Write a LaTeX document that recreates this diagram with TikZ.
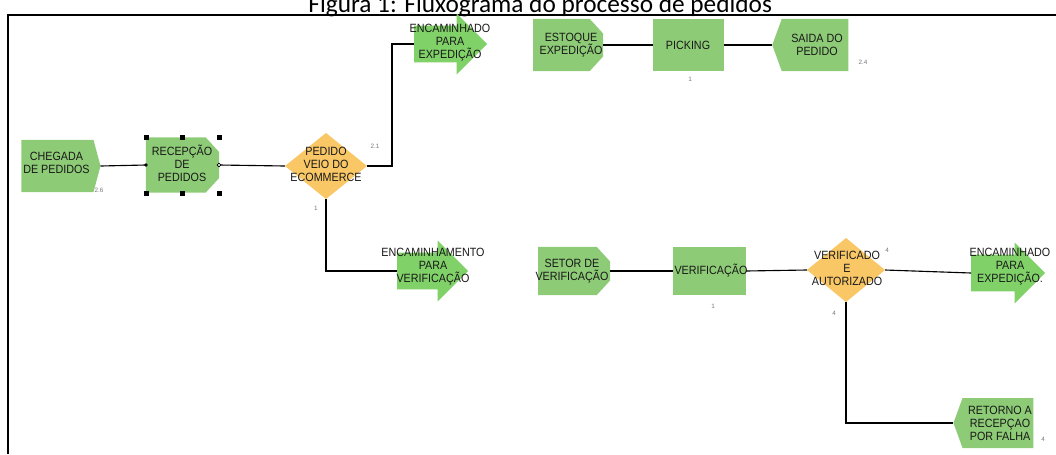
\documentclass[tikz,border=0pt]{standalone}
\usepackage{fontspec}
\setmainfont{Liberation Sans}
\newfontfamily\boxfont[FakeStretch=0.9]{Liberation Sans}
\newfontfamily\titlefont{Carlito}
\usepackage{tikz}
\usetikzlibrary{positioning,shapes.geometric,shapes.symbols,shapes.arrows}
\definecolor{boxgreen}{RGB}{141,203,118}
\definecolor{arrowgreen}{RGB}{128,210,104}
\definecolor{decisionyellow}{RGB}{249,199,102}
\definecolor{textdark}{RGB}{25,25,25}
\definecolor{numgray}{RGB}{120,120,120}
\tikzstyle{forma} = [inner sep=0pt, outer sep=0pt]
\tikzstyle{origem} = [forma, signal, signal to=east, signal pointer angle=150, fill=boxgreen]
\tikzstyle{destino} = [forma, signal, signal to=west, signal pointer angle=140, fill=boxgreen]
\tikzstyle{setor} = [forma, rectangle, path picture={
	\fill[boxgreen] (path picture bounding box.south west) -- (path picture bounding box.north west)
		-- ([xshift=-0.33cm]path picture bounding box.north east) -- ([yshift=-0.36cm]path picture bounding box.north east)
		-- ([yshift=0.36cm]path picture bounding box.south east) -- ([xshift=-0.33cm]path picture bounding box.south east) -- cycle;}]
\tikzstyle{processo} = [forma, rectangle, fill=boxgreen]
\tikzstyle{decisao} = [forma, diamond, fill=decisionyellow]
\tikzstyle{encaminha} = [forma, single arrow, inner ysep=0.45cm, single arrow head extend=0.3cm, fill=arrowgreen, anchor=tail]
\tikzstyle{rotulo} = [align=center, text=textdark, font=\boxfont\fontsize{8.5}{9.2}\selectfont]
\tikzstyle{numero} = [text=numgray, font=\fontsize{4.5}{5}\selectfont]
\tikzstyle{liga} = [line width=0.8pt]
\tikzstyle{alca} = [fill=black]

\begin{document}
\begin{tikzpicture}[x=0.025cm, y=-0.025cm]
			\useasboundingbox (0,0) rectangle (1056,454);
			\node[anchor=base east, font=\titlefont\fontsize{18}{18}\selectfont] (titulo) at (777,12.5) {Figura 1: Fluxograma do processo de pedidos};
			\draw[line width=1pt] (1056,15) -- (8,15) -- (8,454);
			% linha de cima: pedido
			\node[origem, minimum width=1.975cm, minimum height=1.3cm] (chegada) at (57.5,166) {};
			\node[rotulo] (t-chegada) at (56.5,163) {CHEGADA\\DE PEDIDOS};
			\node[setor, minimum width=1.825cm, minimum height=1.375cm] (recepcao) at (182.5,165) {};
			\node[rotulo] (t-recepcao) at (182,163) {RECEPÇÃO\\DE\\PEDIDOS};
			\node[decisao, minimum width=2.05cm, minimum height=1.65cm] (pedido) at (326,166) {};
			\node[rotulo] (t-pedido) at (326,164) {PEDIDO\\VEIO DO\\ECOMMERCE};
			\node[encaminha, minimum height=1.825cm] (enc1) at (414,44) {};
			\node[rotulo] (t-enc1) at (450,43) {ENCAMINHADO\\PARA\\EXPEDIÇÃO};
			\node[encaminha, minimum height=1.775cm] (enc2) at (397,271) {};
			\node[rotulo] (t-enc2) at (433,267) {ENCAMINHAMENTO\\PARA\\VERIFICAÇÃO};
			% expedicao
			\node[setor, minimum width=1.75cm, minimum height=1.3cm] (estoque) at (568,45) {};
			\node[rotulo] (t-estoque) at (571,45) {ESTOQUE\\EXPEDIÇÃO};
			\node[processo, minimum width=1.775cm, minimum height=1.3cm] (picking) at (688.5,45) {};
			\node[rotulo] (t-picking) at (688,45) {PICKING};
			\node[destino, minimum width=1.9cm, minimum height=1.3cm] (saida) at (815,45) {};
			\node[rotulo] (t-saida) at (817,45) {SAIDA DO\\PEDIDO};
			% verificacao
			\node[setor, minimum width=1.8cm, minimum height=1.2cm] (setor) at (574,271) {};
			\node[rotulo] (t-setor) at (572,271) {SETOR DE\\VERIFICAÇÃO};
			\node[processo, minimum width=1.825cm, minimum height=1.2cm] (verificacao) at (709.5,271) {};
			\node[rotulo] (t-verificacao) at (711,271) {VERIFICAÇÃO};
			\node[decisao, minimum width=1.95cm, minimum height=1.6cm] (verif) at (846,270) {};
			\node[rotulo] (t-verif) at (847,268.5) {VERIFICADO\\E\\AUTORIZADO};
			\node[encaminha, minimum height=1.85cm] (enc3) at (971,273) {};
			\node[rotulo] (t-enc3) at (1010,267) {ENCAMINHADO\\PARA\\EXPEDIÇÃO.};
			\node[destino, minimum width=2cm, minimum height=1.25cm] (retorno) at (998,423) {};
			\node[rotulo] (t-retorno) at (1000,423) {RETORNO A\\RECEPÇAO\\POR FALHA};
			% numeros
			\node[numero] (n-chegada) at (99,190) {2.6};
			\node[numero] (n-pedido1) at (375,146) {2.1};
			\node[numero] (n-pedido2) at (316,208) {1};
			\node[numero] (n-picking) at (690,79) {1};
			\node[numero] (n-saida) at (863,62) {2.4};
			\node[numero] (n-verificacao) at (713,306) {1};
			\node[numero] (n-verif1) at (887,250) {4};
			\node[numero] (n-verif2) at (834,313) {4};
			\node[numero] (n-retorno) at (1043,439) {4};
			% ligacoes
			\draw[liga] (chegada.east) -- (recepcao.west);
			\draw[liga] (recepcao.east) -- (pedido.west);
			\draw[liga] (pedido.east) -- ++(25,0) |- (enc1.tail);
			\draw[liga] (pedido.south) |- (enc2.tail);
			\draw[liga] (estoque.east) -- (picking.west);
			\draw[liga] (picking.east) -- (saida.west);
			\draw[liga] (setor.east) -- (verificacao.west);
			\draw[liga] (verificacao.east) -- (verif.west);
			\draw[liga] (verif.east) -- (enc3.tail);
			\draw[liga] (verif.south) |- (retorno.west);
			% selecao
			\foreach \hx in {146,182,219}
				\foreach \hy in {137,193}
					\fill[alca] (\hx-2.5,\hy-2.5) rectangle (\hx+2.5,\hy+2.5);
			\fill[alca] (146,165) circle (1.4pt);
			\filldraw[fill=white, line width=0.5pt] (219,165) circle (1.4pt);
		\end{tikzpicture}
\end{document}
